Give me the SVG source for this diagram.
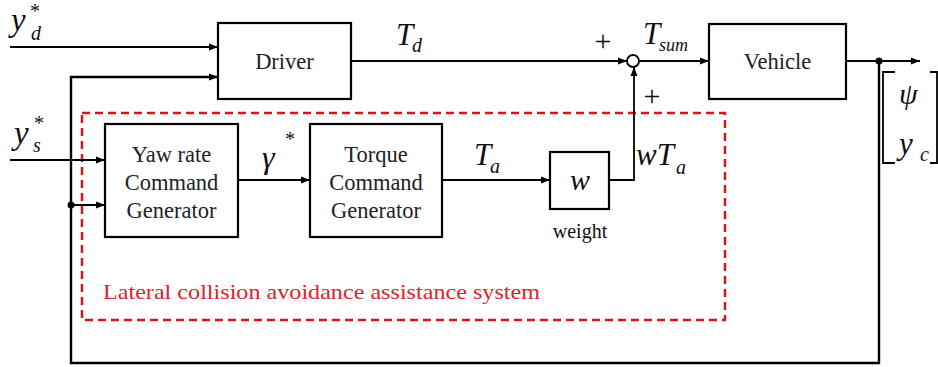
<svg xmlns="http://www.w3.org/2000/svg" width="938" height="367" viewBox="0 0 938 367">
<style>
.box{fill:#fff;stroke:#000;stroke-width:2.2}
.ln{fill:none;stroke:#000;stroke-width:1.8}
.fb{fill:none;stroke:#000;stroke-width:2.4}
text{font-family:'Liberation Serif','Tinos','DejaVu Serif',serif}
.lbl{font-size:22.5px;fill:#222;text-anchor:middle}
.m{font-style:italic;fill:#111}
.pl{fill:#111}
</style>
<defs>
<marker id="ah" markerWidth="10" markerHeight="8" refX="9" refY="4" orient="auto" markerUnits="userSpaceOnUse">
<path d="M0,0.5 L9,4 L0,7.5 Z" fill="#000"/>
</marker>
</defs>
<rect width="938" height="367" fill="#fff"/>

<g id="assist-system">
<rect x="82" y="113" width="643" height="207" fill="none" stroke="#d9141b" stroke-width="2.5" stroke-dasharray="8,5"/>
<text x="103" y="299" font-size="21" fill="#e0202a" textLength="437" lengthAdjust="spacingAndGlyphs">Lateral collision avoidance assistance system</text>
</g>

<g id="connectors">
<line class="ln" x1="10" y1="47" x2="218" y2="47" marker-end="url(#ah)"/>
<line class="ln" x1="351" y1="61" x2="627" y2="61" marker-end="url(#ah)"/>
<line class="ln" x1="639" y1="61" x2="709" y2="61" marker-end="url(#ah)"/>
<line class="ln" x1="846" y1="61" x2="920" y2="61" marker-end="url(#ah)"/>
<polyline class="fb" points="879,61 879,363 71,363 71,77 217,77"/>
<line class="ln" x1="200" y1="77" x2="218" y2="77" marker-end="url(#ah)"/>
<line class="ln" x1="10" y1="160" x2="105" y2="160" marker-end="url(#ah)"/>
<line class="ln" x1="71" y1="205" x2="105" y2="205" marker-end="url(#ah)"/>
<line class="ln" x1="238" y1="180" x2="310" y2="180" marker-end="url(#ah)"/>
<line class="ln" x1="442" y1="180" x2="550" y2="180" marker-end="url(#ah)"/>
<polyline class="ln" points="609,180 634,180 634,67" marker-end="url(#ah)"/>
<circle cx="879" cy="61" r="3.5" fill="#000"/>
<circle cx="71" cy="205" r="3.5" fill="#000"/>
</g>

<g id="driver">
<rect class="box" x="218" y="23" width="133" height="76"/>
<text class="lbl" x="284.5" y="69">Driver</text>
</g>

<g id="sum">
<circle cx="633" cy="61" r="6" fill="#fff" stroke="#000" stroke-width="1.8"/>
<text class="pl" x="603" y="51" font-size="30" text-anchor="middle">+</text>
<text class="pl" x="652" y="106" font-size="30" text-anchor="middle">+</text>
</g>

<g id="vehicle">
<rect class="box" x="709" y="24" width="137" height="75"/>
<text class="lbl" x="777.5" y="69">Vehicle</text>
</g>

<g id="yaw-rate-generator">
<rect class="box" x="105" y="124" width="133" height="113"/>
<text class="lbl" x="171.5" y="162">Yaw rate</text>
<text class="lbl" x="171.5" y="190">Command</text>
<text class="lbl" x="171.5" y="218">Generator</text>
</g>

<g id="torque-generator">
<rect class="box" x="310" y="124" width="132" height="113"/>
<text class="lbl" x="376" y="162">Torque</text>
<text class="lbl" x="376" y="190">Command</text>
<text class="lbl" x="376" y="218">Generator</text>
</g>

<g id="weight">
<rect class="box" x="550" y="152" width="59" height="57"/>
<text class="m" x="580" y="190" font-size="30" text-anchor="middle">w</text>
<text class="pl" x="580" y="238" font-size="20" text-anchor="middle">weight</text>
</g>

<g id="labels">
<text class="m" x="11" y="31" font-size="33">y</text>
<text class="m" x="31" y="40" font-size="20">d</text>
<text class="pl" x="35" y="18" font-size="20" text-anchor="middle">*</text>

<text class="m" x="14" y="144" font-size="33">y</text>
<text class="m" x="33" y="152" font-size="20">s</text>
<text class="pl" x="39" y="130" font-size="20" text-anchor="middle">*</text>

<text class="m" x="396" y="45" font-size="31">T</text>
<text class="m" x="412" y="52" font-size="20">d</text>

<text class="m" x="643" y="44" font-size="31">T</text>
<text class="m" x="659" y="51" font-size="18">sum</text>

<text class="m" x="262" y="168" font-size="32">γ</text>
<text class="pl" x="290" y="146" font-size="20" text-anchor="middle">*</text>

<text class="m" x="474" y="165" font-size="31">T</text>
<text class="m" x="490" y="173" font-size="20">a</text>

<text class="m" x="636" y="165" font-size="31">wT</text>
<text class="m" x="676" y="174" font-size="20">a</text>

<text class="m" x="899" y="104" font-size="30">ψ</text>
<text class="m" x="899" y="154" font-size="31">y</text>
<text class="m" x="920" y="161" font-size="20">c</text>
</g>

<g id="bracket">
<polyline class="ln" points="895,72 883,72 883,163 895,163"/>
<polyline class="ln" points="930,72 937,72 937,163 930,163"/>
</g>
</svg>
